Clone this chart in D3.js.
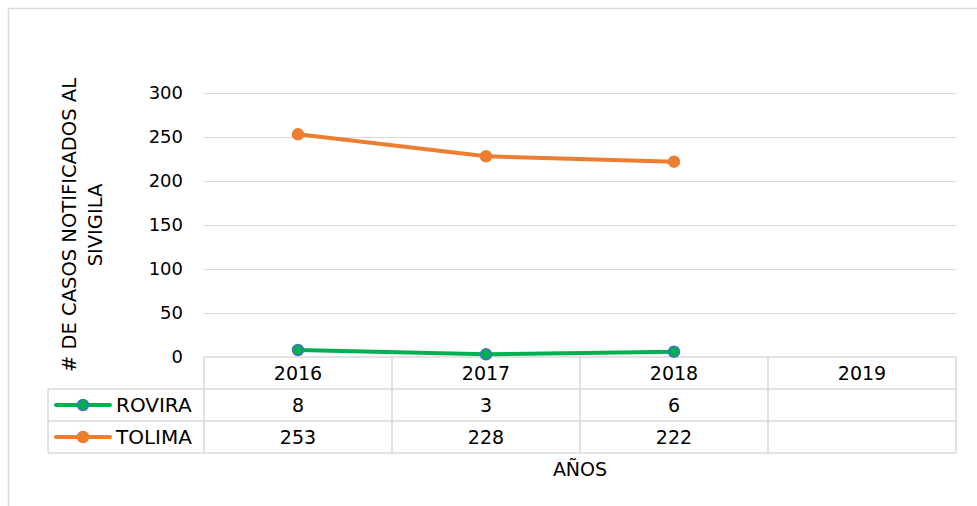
<!DOCTYPE html>
<html>
<head>
<meta charset="utf-8">
<script src="https://cdn.jsdelivr.net/npm/d3@7"></script>
<style>
  body { margin: 0; background: #fff; }
  text { font-family: "DejaVu Sans", sans-serif; fill: #000; }
</style>
</head>
<body>
<svg id="chart" width="977" height="506"></svg>
<script>
var years = ["2016", "2017", "2018", "2019"];
var seriesNames = ["ROVIRA", "TOLIMA"];
var rovira = [8, 3, 6, null];
var tolima = [253, 228, 222, null];
var yTicks = [0, 50, 100, 150, 200, 250, 300];

var lineColors = ["#00b050", "#ed7d31"];
var markerStroke = ["#4472c4", "#ed7d31"];

var svg = d3.select("#chart");
var plotLeft = 204, plotRight = 956, plotTop = 93, plotBase = 357;
var rowH = 32, tableLeft = 48;

// outer frame
svg.append("rect")
	.attr("x", 8.5).attr("y", 8.5)
	.attr("width", 980).attr("height", 510)
	.style("fill", "none").style("stroke", "#d9d9d9").style("stroke-width", 1.5);

var x = d3.scaleBand().domain(years).range([plotLeft, plotRight]);
var y = d3.scaleLinear().domain([0, 300]).range([plotBase, plotTop]);

// gridlines
svg.selectAll("line.grid").data(yTicks.filter(function(d) { return d > 0; })).enter()
	.append("line")
	.attr("class", "grid")
	.attr("x1", plotLeft).attr("x2", plotRight)
	.attr("y1", function(d) { return y(d) + 0.5; })
	.attr("y2", function(d) { return y(d) + 0.5; })
	.style("stroke", "#d9d9d9").style("stroke-width", 1);

// y tick labels
svg.selectAll("text.ytick").data(yTicks).enter()
	.append("text")
	.attr("class", "ytick")
	.attr("x", 183)
	.attr("y", function(d) { return y(d); })
	.attr("dy", "0.35em")
	.attr("text-anchor", "end")
	.style("font-size", "18px")
	.text(function(d) { return d; });

// y title
var yt = svg.append("text")
	.attr("transform", "translate(82,225) rotate(-90)")
	.attr("text-anchor", "middle")
	.style("font-size", "19.5px");
yt.append("tspan").attr("x", 0).attr("dy", "-0.3em").text("# DE CASOS NOTIFICADOS AL");
yt.append("tspan").attr("x", 0).attr("dy", "1.35em").text("SIVIGILA");

// data table
var tbl = svg.append("g");
var gridStyle = function(sel) { sel.style("stroke", "#d9d9d9").style("stroke-width", 1.5); };
[plotBase, plotBase + rowH, plotBase + 2 * rowH, plotBase + 3 * rowH].forEach(function(yy, i) {
	tbl.append("line")
		.attr("x1", i === 0 ? plotLeft : tableLeft).attr("x2", plotRight)
		.attr("y1", yy).attr("y2", yy)
		.call(gridStyle);
});
tbl.append("line").attr("x1", tableLeft).attr("x2", tableLeft)
	.attr("y1", plotBase + rowH).attr("y2", plotBase + 3 * rowH).call(gridStyle);
years.forEach(function(yr) {
	tbl.append("line").attr("x1", x(yr)).attr("x2", x(yr))
		.attr("y1", plotBase).attr("y2", plotBase + 3 * rowH).call(gridStyle);
});
tbl.append("line").attr("x1", plotRight).attr("x2", plotRight)
	.attr("y1", plotBase).attr("y2", plotBase + 3 * rowH).call(gridStyle);

// header years
tbl.selectAll("text.year").data(years).enter()
	.append("text")
	.attr("x", function(d) { return x(d) + x.bandwidth() / 2; })
	.attr("y", plotBase + rowH / 2)
	.attr("dy", "0.35em")
	.attr("text-anchor", "middle")
	.style("font-size", "19px")
	.text(function(d) { return d; });

var allSeries = [rovira, tolima];
allSeries.forEach(function(vals, si) {
	var rowY = plotBase + rowH * (si + 1) + rowH / 2;
	// legend key
	tbl.append("line")
		.attr("x1", 56).attr("x2", 110)
		.attr("y1", rowY).attr("y2", rowY)
		.style("stroke", lineColors[si]).style("stroke-width", 4).style("stroke-linecap", "round");
	tbl.append("circle")
		.attr("cx", 83).attr("cy", rowY).attr("r", 5.5)
		.style("fill", lineColors[si]).style("stroke", markerStroke[si]).style("stroke-width", 1.5);
	tbl.append("text")
		.attr("x", 116).attr("y", rowY).attr("dy", "0.35em")
		.style("font-size", "20px")
		.text(seriesNames[si]);
	vals.forEach(function(v, i) {
		if (v === null) return;
		tbl.append("text")
			.attr("x", x(years[i]) + x.bandwidth() / 2)
			.attr("y", rowY).attr("dy", "0.35em")
			.attr("text-anchor", "middle")
			.style("font-size", "19px")
			.text(v);
	});

	// series line + markers
	var pts = vals.map(function(v, i) { return { year: years[i], v: v }; })
		.filter(function(d) { return d.v !== null; });
	var line = d3.line()
		.x(function(d) { return x(d.year) + x.bandwidth() / 2; })
		.y(function(d) { return y(d.v); });
	svg.append("path")
		.datum(pts)
		.attr("d", line)
		.style("fill", "none")
		.style("stroke", lineColors[si])
		.style("stroke-width", 4)
		.style("stroke-linejoin", "round");
	svg.selectAll("circle.s" + si).data(pts).enter()
		.append("circle")
		.attr("cx", function(d) { return x(d.year) + x.bandwidth() / 2; })
		.attr("cy", function(d) { return y(d.v); })
		.attr("r", 5.5)
		.style("fill", lineColors[si])
		.style("stroke", markerStroke[si])
		.style("stroke-width", 1.5);
});

// x title
svg.append("text")
	.attr("x", 580).attr("y", 469)
	.attr("dy", "0.35em")
	.attr("text-anchor", "middle")
	.style("font-size", "19px")
	.text("AÑOS");
</script>
</body>
</html>
